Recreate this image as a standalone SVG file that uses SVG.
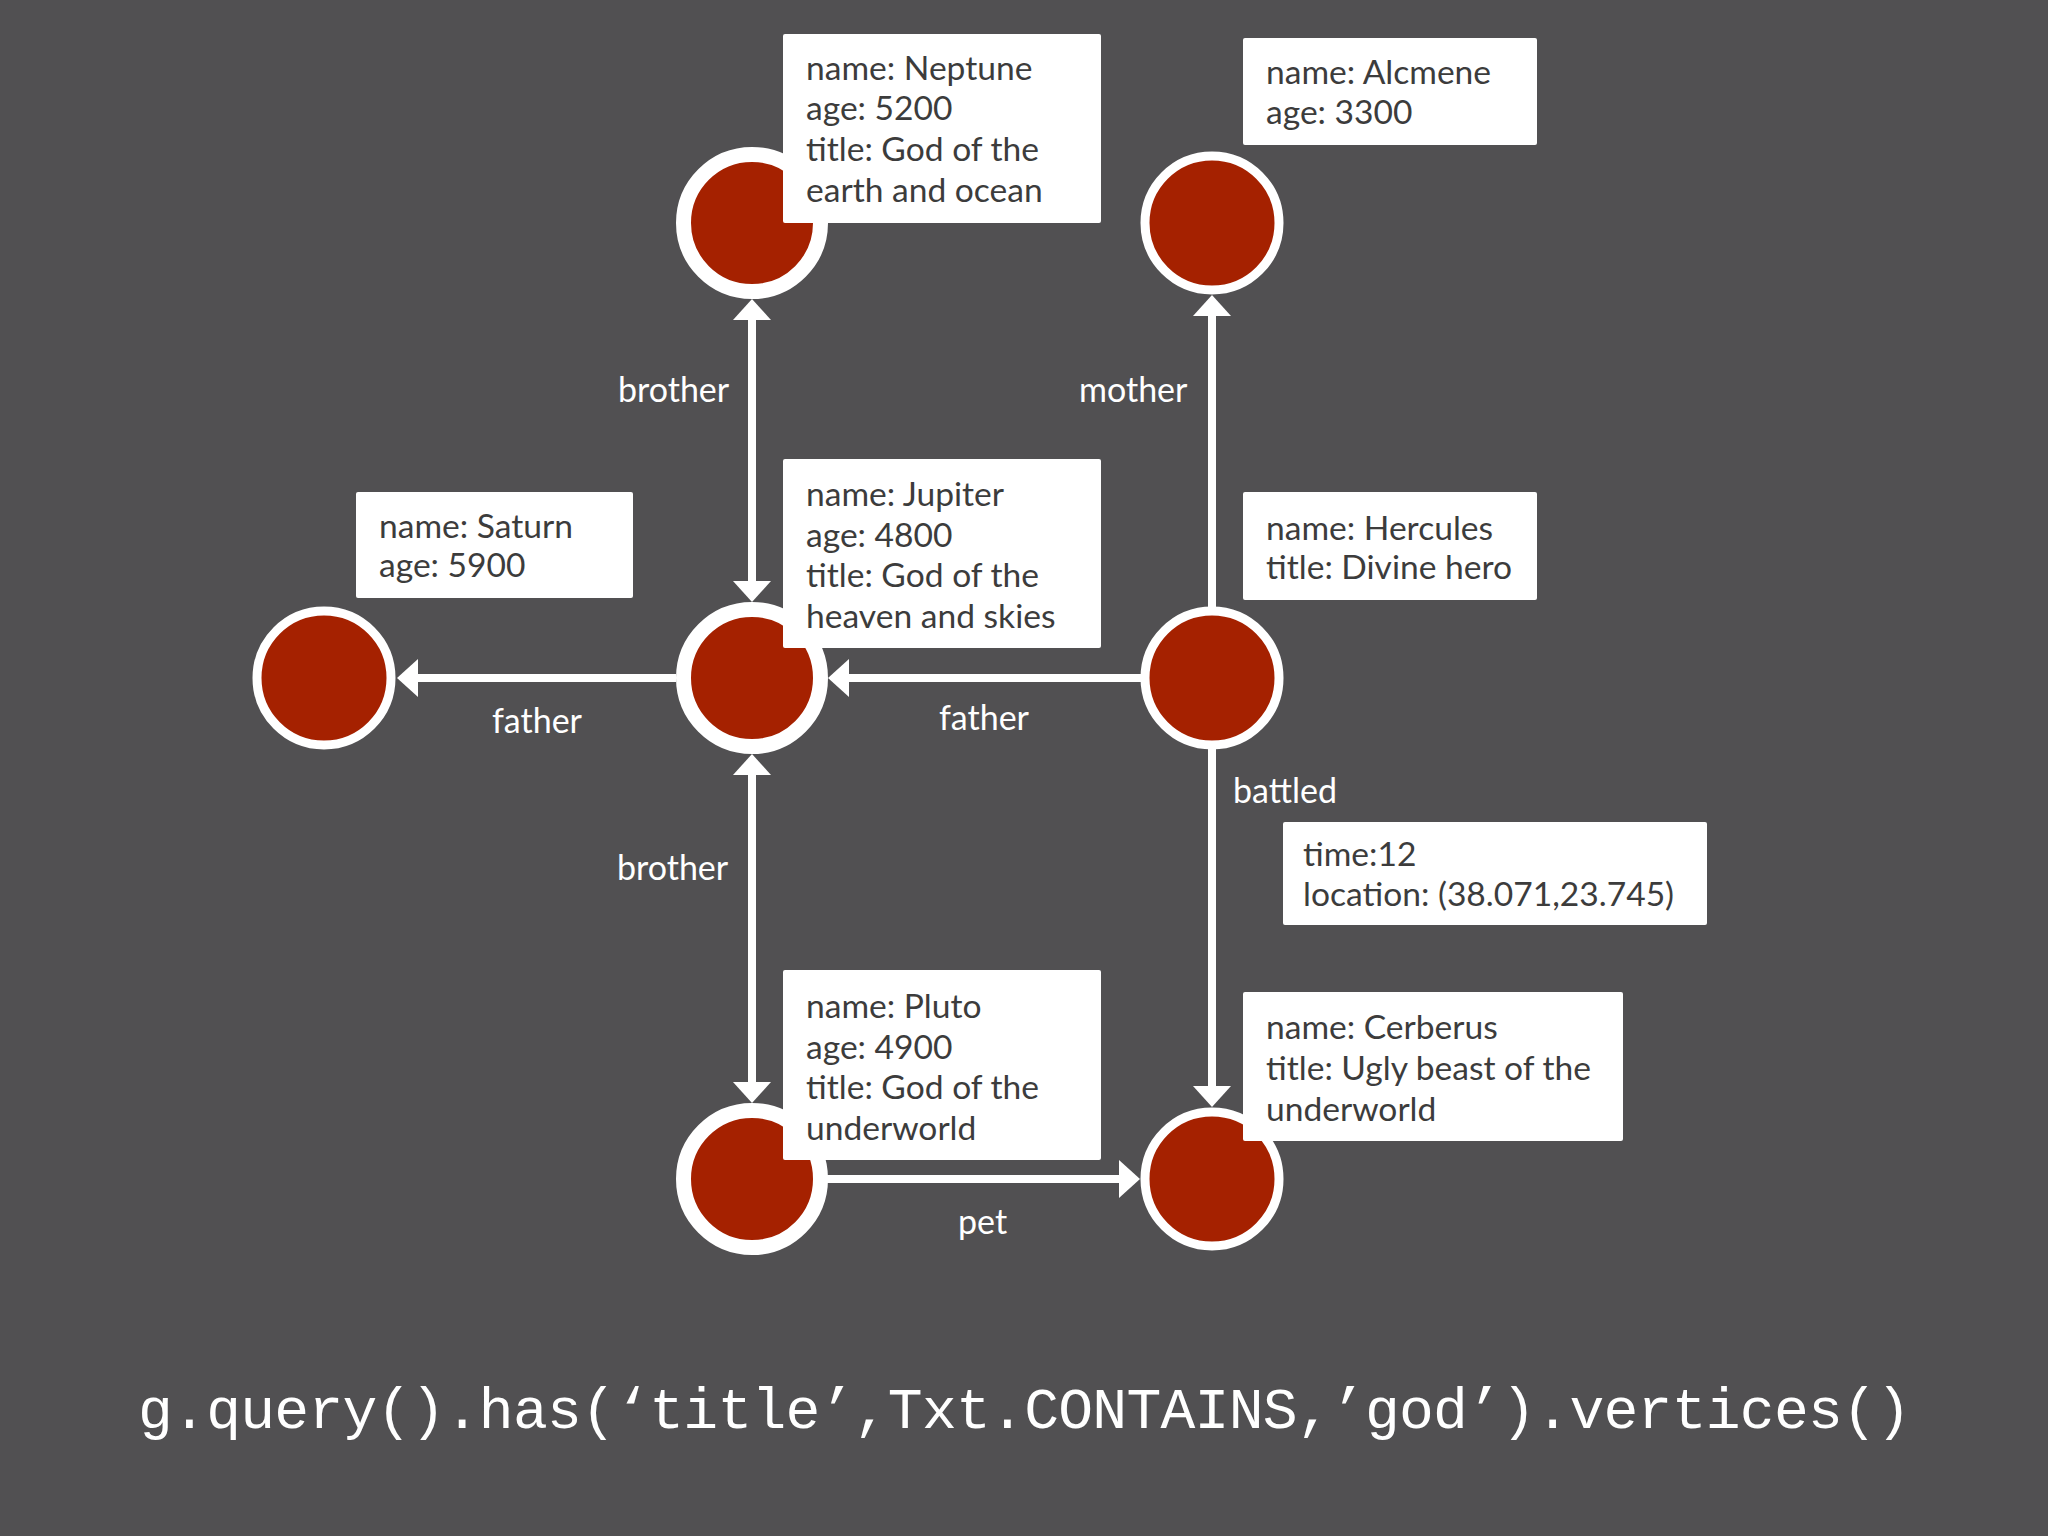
<svg xmlns="http://www.w3.org/2000/svg" width="2048" height="1536" viewBox="0 0 2048 1536">
  <defs>
    <style>
      .bg { fill: #515052; }
      .edge { stroke: #ffffff; stroke-width: 8; fill: none; }
      .big { fill: #a52100; stroke: #ffffff; stroke-width: 15; }
      .small { fill: #a52100; stroke: #ffffff; stroke-width: 9; }
      .box { fill: #ffffff; }
      .t { font-family: Lato, "Liberation Sans", sans-serif; font-size: 33.6px; fill: #3c3c3c; }
      .lbl { font-family: Lato, "Liberation Sans", sans-serif; font-size: 34px; fill: #ffffff; }
      .code { font-family: "Liberation Mono", "Courier New", monospace; font-size: 58px; fill: #ffffff; }
    </style>
    <marker id="arrow" markerUnits="userSpaceOnUse" markerWidth="22" markerHeight="40" refX="11" refY="19" orient="auto-start-reverse" viewBox="0 0 22 40">
      <path d="M0,0 L21,19 L0,38 z" fill="#ffffff"/>
    </marker>
  </defs>
  <rect class="bg" x="0" y="0" width="2048" height="1536"/>

  <g id="connectors">
    <line class="edge" x1="752" y1="309" x2="752" y2="592" marker-start="url(#arrow)" marker-end="url(#arrow)"/>
    <line class="edge" x1="752" y1="764" x2="752" y2="1093" marker-start="url(#arrow)" marker-end="url(#arrow)"/>
    <line class="edge" x1="1212" y1="607" x2="1212" y2="305" marker-end="url(#arrow)"/>
    <line class="edge" x1="676" y1="678" x2="407" y2="678" marker-end="url(#arrow)"/>
    <line class="edge" x1="1142" y1="678" x2="838" y2="678" marker-end="url(#arrow)"/>
    <line class="edge" x1="1212" y1="749" x2="1212" y2="1097" marker-end="url(#arrow)"/>
    <line class="edge" x1="826" y1="1179" x2="1130" y2="1179" marker-end="url(#arrow)"/>
    <text class="lbl" x="618" y="402">brother</text>
    <text class="lbl" x="1079" y="402">mother</text>
    <text class="lbl" x="492" y="733">father</text>
    <text class="lbl" x="939" y="730">father</text>
    <text class="lbl" x="1233" y="803">battled</text>
    <text class="lbl" x="617" y="880">brother</text>
    <text class="lbl" x="958" y="1234">pet</text>
    <g id="battled-props">
      <rect class="box" x="1283" y="822" width="424" height="103" rx="2"/>
      <text class="t" x="1303" y="866">time:12</text>
      <text class="t" x="1303" y="906">location: (38.071,23.745)</text>
    </g>
  </g>

  <g id="neptune">
    <circle class="big" cx="752" cy="223" r="68.5"/>
    <rect class="box" x="783" y="34" width="318" height="189" rx="2"/>
    <text class="t" x="806" y="80">name: Neptune</text>
    <text class="t" x="806" y="120">age: 5200</text>
    <text class="t" x="806" y="161">title: God of the</text>
    <text class="t" x="806" y="202">earth and ocean</text>
  </g>

  <g id="alcmene">
    <circle class="small" cx="1212" cy="223" r="67"/>
    <rect class="box" x="1243" y="38" width="294" height="107" rx="2"/>
    <text class="t" x="1266" y="84">name: Alcmene</text>
    <text class="t" x="1266" y="124">age: 3300</text>
  </g>

  <g id="saturn">
    <circle class="small" cx="324" cy="678" r="67"/>
    <rect class="box" x="356" y="492" width="277" height="106" rx="2"/>
    <text class="t" x="379" y="538">name: Saturn</text>
    <text class="t" x="379" y="577">age: 5900</text>
  </g>

  <g id="jupiter">
    <circle class="big" cx="752" cy="678" r="68.5"/>
    <rect class="box" x="783" y="459" width="318" height="189" rx="2"/>
    <text class="t" x="806" y="506">name: Jupiter</text>
    <text class="t" x="806" y="547">age: 4800</text>
    <text class="t" x="806" y="587">title: God of the</text>
    <text class="t" x="806" y="628">heaven and skies</text>
  </g>

  <g id="hercules">
    <circle class="small" cx="1212" cy="678" r="67"/>
    <rect class="box" x="1243" y="492" width="294" height="108" rx="2"/>
    <text class="t" x="1266" y="540">name: Hercules</text>
    <text class="t" x="1266" y="579">title: Divine hero</text>
  </g>

  <g id="pluto">
    <circle class="big" cx="752" cy="1179" r="68.5"/>
    <rect class="box" x="783" y="970" width="318" height="190" rx="2"/>
    <text class="t" x="806" y="1018">name: Pluto</text>
    <text class="t" x="806" y="1059">age: 4900</text>
    <text class="t" x="806" y="1099">title: God of the</text>
    <text class="t" x="806" y="1140">underworld</text>
  </g>

  <g id="cerberus">
    <circle class="small" cx="1212" cy="1179" r="67"/>
    <rect class="box" x="1243" y="992" width="380" height="149" rx="2"/>
    <text class="t" x="1266" y="1039">name: Cerberus</text>
    <text class="t" x="1266" y="1080">title: Ugly beast of the</text>
    <text class="t" x="1266" y="1121">underworld</text>
  </g>

  <text class="code" x="138" y="1428" textLength="1773" lengthAdjust="spacing">g.query().has(‘title’,Txt.CONTAINS,’god’).vertices()</text>
</svg>
